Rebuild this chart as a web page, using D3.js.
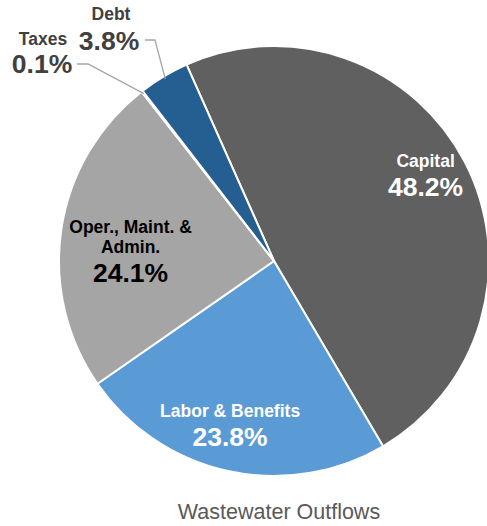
<!DOCTYPE html>
<html>
<head>
<meta charset="utf-8">
<script src="https://cdn.jsdelivr.net/npm/d3@7/dist/d3.min.js"></script>
<style>
  html, body { margin: 0; padding: 0; background: #fff; }
  svg { display: block; font-family: "Liberation Sans", Arial, sans-serif; }
</style>
</head>
<body>
<script>
// Wastewater outflow shares, in percent, drawn clockwise
const categories = ["Capital", "Labor & Benefits", "Oper., Maint. & Admin.", "Taxes", "Debt"];
const values = [48.2, 23.8, 24.1, 0.1, 3.8];
const percentLabels = ["48.2%", "23.8%", "24.1%", "0.1%", "3.8%"];
const nameLines = [["Capital"], ["Labor & Benefits"], ["Oper., Maint. &", "Admin."], ["Taxes"], ["Debt"]];
const colors = ["#606060", "#5b9bd5", "#a5a5a5", "#ffc000", "#255e91"];
const title = "Wastewater Outflows";

const W = 487, H = 526;
const cx = 274, cy = 261, R = 215;
const deg = Math.PI / 180;
const nameSize = 17.5, pctSize = 26.5;

const svg = d3.select("body").append("svg").attr("width", W).attr("height", H);
const g = svg.append("g").attr("transform", `translate(${cx},${cy})`);

const start = -24 * deg;
const pie = d3.pie().sort(null).value(d => d).startAngle(start).endAngle(start + 2 * Math.PI);
const arcs = pie(values);
const arc = d3.arc().innerRadius(0).outerRadius(R);

g.selectAll("path.slice").data(arcs).join("path")
  .attr("class", "slice")
  .attr("d", arc)
  .attr("fill", (d, i) => colors[i])
  .attr("stroke", "#fff")
  .attr("stroke-width", 2)
  .attr("stroke-linejoin", "round");

// point at angle a (clockwise from 12 o'clock) and radius r
const polar = (a, r) => [r * Math.sin(a), -r * Math.cos(a)];

// inside labels: percent baseline sits at (slice mid-angle + shift, r)
const inside = [
  { i: 0, shift: 4, r: 165, color: "#fff" },
  { i: 1, shift: 1, r: 190, color: "#fff" },
  { i: 2, shift: -17, r: 145, color: "#000" }
];
inside.forEach(o => {
  const a = arcs[o.i];
  const mid = (a.startAngle + a.endAngle) / 2 + o.shift * deg;
  const [x, y] = polar(mid, o.r);
  const lines = nameLines[o.i];
  const lh = 20;
  const t = g.append("g").attr("fill", o.color).attr("text-anchor", "middle");
  lines.forEach((s, k) => {
    t.append("text").attr("x", x).attr("y", y - 29 - (lines.length - 1 - k) * lh)
      .attr("font-size", nameSize).attr("font-weight", "bold").text(s);
  });
  t.append("text").attr("x", x).attr("y", y)
    .attr("font-size", pctSize).attr("font-weight", "bold").text(percentLabels[o.i]);
});

// outside labels for the two thin slices, with elbow leader lines
const outside = [
  { i: 4, name: [-163, -241], pct: [-165, -211], lineStart: [-129, -221], elbow: [-119, -221] },
  { i: 3, name: [-231, -216], pct: [-232, -188], lineStart: [-197, -197], elbow: [-186, -197] }
];
outside.forEach(o => {
  const a = arcs[o.i];
  const mid = (a.startAngle + a.endAngle) / 2;
  const tip = polar(mid, R - 3);
  g.append("path")
    .attr("d", d3.line()([o.lineStart, o.elbow, tip]))
    .attr("fill", "none").attr("stroke", "#a6a6a6").attr("stroke-width", 1.3);
  g.append("text").attr("x", o.name[0]).attr("y", o.name[1])
    .attr("text-anchor", "middle").attr("font-size", nameSize).attr("font-weight", "bold")
    .attr("fill", "#404040").text(nameLines[o.i][0]);
  g.append("text").attr("x", o.pct[0]).attr("y", o.pct[1])
    .attr("text-anchor", "middle").attr("font-size", pctSize).attr("font-weight", "bold")
    .attr("fill", "#404040").text(percentLabels[o.i]);
});

svg.append("text").attr("x", 279).attr("y", 519)
  .attr("text-anchor", "middle").attr("font-size", 21.5).attr("fill", "#595959")
  .text(title);
</script>
</body>
</html>
